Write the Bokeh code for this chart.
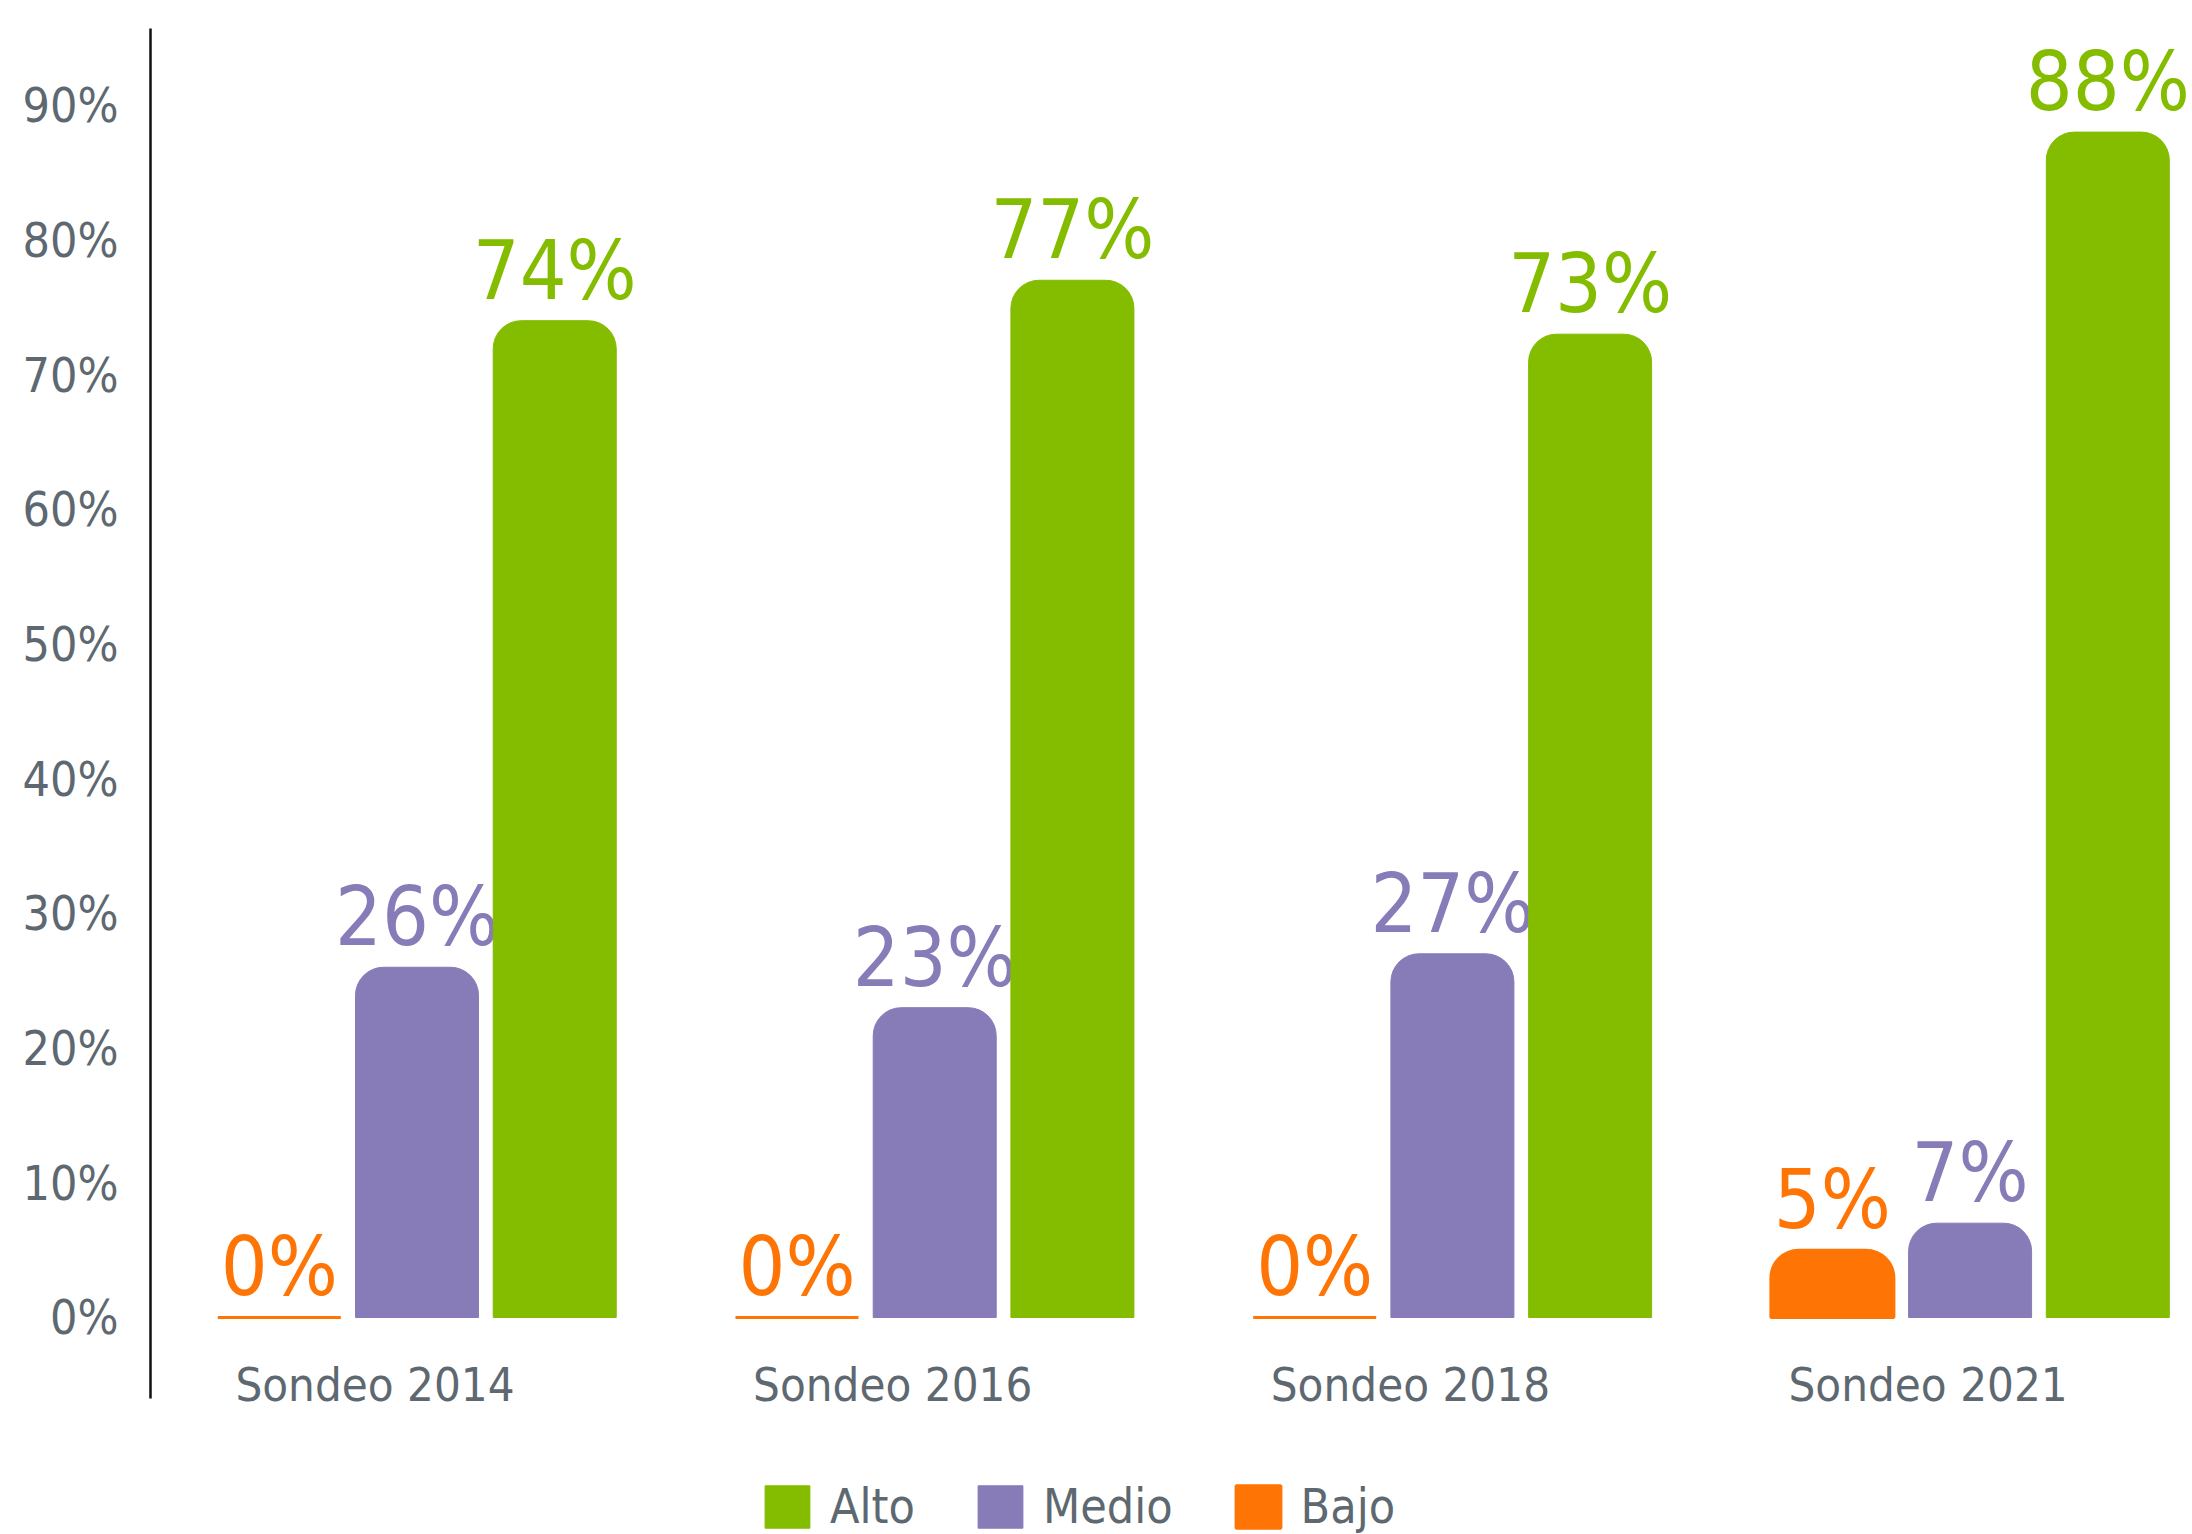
import numpy as np
from bokeh.plotting import figure
from bokeh.models import Range1d, FixedTicker, PrintfTickFormatter, Legend, LegendItem
from bokeh.core.properties import value
from bokeh.embed import file_html
from bokeh.resources import INLINE

# ---- data ----
categories = ["Sondeo 2014", "Sondeo 2016", "Sondeo 2018", "Sondeo 2021"]
series_names = ["Alto", "Medio", "Bajo"]
alto = [74, 77, 73, 88]
medio = [26, 23, 27, 7]
bajo = [0, 0, 0, 5]
y_ticks = [0, 10, 20, 30, 40, 50, 60, 70, 80, 90]

# ---- style ----
FONT = "DejaVu Sans Condensed"
TEXT_GRAY = "#5e6870"
COLORS = {"Alto": "#84bc00", "Medio": "#877bb8", "Bajo": "#ff7505"}
OFFSETS = {"Bajo": -0.266, "Medio": 0.0, "Alto": 0.266}
BAR_W = 0.2376

p = figure(width=2192, height=1534, output_backend="svg", toolbar_location=None,
           x_range=Range1d(-0.5148, 3.4296), y_range=Range1d(-16.11, 97.77),
           x_axis_location=None, min_border_left=150, min_border_top=0,
           min_border_right=0, min_border_bottom=0)
p.outline_line_color = None
p.grid.visible = False
p.background_fill_color = "white"
p.border_fill_color = "white"

idx = np.arange(len(categories))
values = {"Alto": alto, "Medio": medio, "Bajo": bajo}
renderers = {}
for name in ["Bajo", "Medio", "Alto"]:
    vals = values[name]
    r = p.vbar(x=idx + OFFSETS[name], top=vals, bottom=0, width=BAR_W,
               fill_color=COLORS[name], line_color=COLORS[name],
               line_width=3 if name == "Bajo" else 1,
               border_radius=(28, 28, 0, 0))
    renderers[name] = r
    p.text(x=idx + OFFSETS[name], y=vals, text=[f"{v}%" for v in vals],
           text_align="center", text_baseline="bottom", y_offset=-3,
           text_font=value(FONT), text_font_size="82px", text_color=COLORS[name])

p.text(x=idx, y=[0] * len(categories), text=categories, x_offset=-42, y_offset=67,
       text_align="center", text_baseline="middle", text_font=value(FONT),
       text_font_size="47px", text_color=TEXT_GRAY)

ax = p.yaxis[0]
ax.ticker = FixedTicker(ticks=y_ticks)
ax.formatter = PrintfTickFormatter(format="%d%%")
ax.bounds = (-6.01, 95.7)
ax.major_tick_line_color = None
ax.minor_tick_line_color = None
ax.axis_line_color = "#111111"
ax.axis_line_width = 2.5
ax.major_label_text_font = FONT
ax.major_label_text_font_size = "48px"
ax.major_label_text_color = TEXT_GRAY
ax.major_label_standoff = 26

legend = Legend(items=[LegendItem(label=n, renderers=[renderers[n]]) for n in series_names],
                orientation="horizontal", location=(609, 0),
                label_text_font=FONT, label_text_font_size="48px",
                label_text_color=TEXT_GRAY, glyph_width=56, glyph_height=53,
                label_standoff=15, spacing=57, padding=0, margin=0,
                border_line_color=None, background_fill_alpha=0)
p.add_layout(legend, "center")

open("out.html", "w").write(file_html(p, INLINE))
